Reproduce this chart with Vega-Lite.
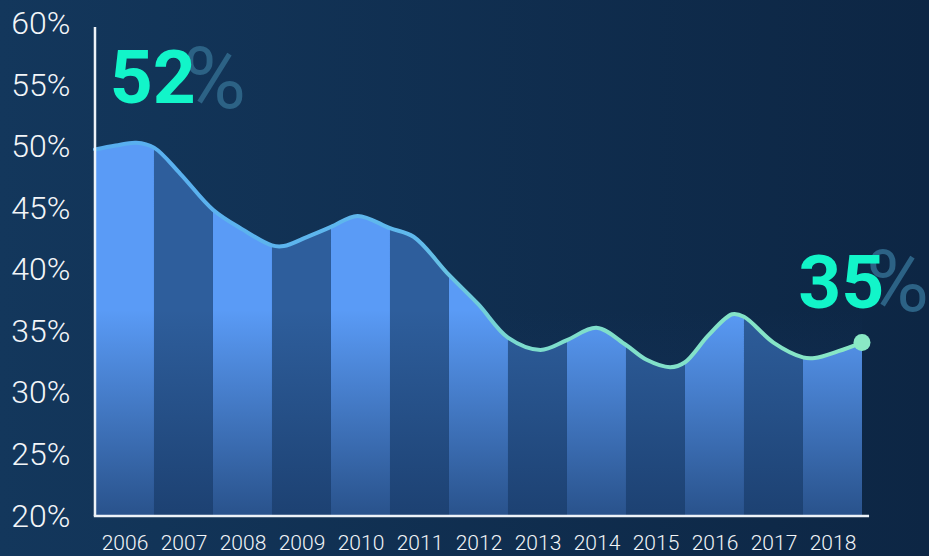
{
  "$schema": "https://vega.github.io/schema/vega-lite/v6.json",
  "width": 929,
  "height": 556,
  "autosize": {"type": "none"},
  "padding": 0,
  "background": "#10304f",
  "view": {"stroke": null, "fill": {"gradient": "linear", "x1": 0, "y1": 0, "x2": 1, "y2": 0, "stops": [{"offset": 0, "color": "#13375c"}, {"offset": 1, "color": "#0d2644"}]}},
  "datasets": {
    "curve": [
      {"u": 0, "v": 49.8, "b": [0]},
      {"u": 0.35, "v": 50.12, "b": [0]},
      {"u": 0.7, "v": 50.35, "b": [0]},
      {"u": 1, "v": 49.95, "b": [0, 1]},
      {"u": 1.45, "v": 47.8, "b": [1]},
      {"u": 2, "v": 44.9, "b": [1, 2]},
      {"u": 2.5, "v": 43.3, "b": [2]},
      {"u": 3, "v": 42.0, "b": [2, 3]},
      {"u": 3.2, "v": 41.95, "b": [3]},
      {"u": 3.6, "v": 42.7, "b": [3]},
      {"u": 4, "v": 43.5, "b": [3, 4]},
      {"u": 4.45, "v": 44.4, "b": [4]},
      {"u": 5, "v": 43.4, "b": [4, 5]},
      {"u": 5.4, "v": 42.7, "b": [5]},
      {"u": 6, "v": 39.6, "b": [5, 6]},
      {"u": 6.5, "v": 37.2, "b": [6]},
      {"u": 7, "v": 34.5, "b": [6, 7]},
      {"u": 7.55, "v": 33.5, "b": [7]},
      {"u": 8, "v": 34.3, "b": [7, 8]},
      {"u": 8.5, "v": 35.3, "b": [8]},
      {"u": 9, "v": 33.9, "b": [8, 9]},
      {"u": 9.35, "v": 32.7, "b": [9]},
      {"u": 9.75, "v": 32.1, "b": [9]},
      {"u": 10, "v": 32.5, "b": [9, 10]},
      {"u": 10.4, "v": 34.7, "b": [10]},
      {"u": 10.8, "v": 36.4, "b": [10]},
      {"u": 11, "v": 36.2, "b": [10, 11]},
      {"u": 11.5, "v": 34.1, "b": [11]},
      {"u": 12, "v": 32.9, "b": [11, 12]},
      {"u": 12.2, "v": 32.85, "b": [12]},
      {"u": 12.6, "v": 33.4, "b": [12]},
      {"u": 13, "v": 34.1, "b": [12]}
    ]
  },
  "layer": [
    {
      "data": {"name": "curve"},
      "transform": [{"flatten": ["b"]}, {"filter": "datum.b % 2 == 0"}],
      "mark": {"type": "area", "interpolate": "catmull-rom", "color": "#5a9bf6"},
      "encoding": {
        "x": {"field": "u", "type": "quantitative", "scale": {"domain": [-1.61, 14.136], "nice": false, "zero": false},
          "axis": {"orient": "bottom", "offset": -40, "values": [0.5, 1.5, 2.5, 3.5, 4.5, 5.5, 6.5, 7.5, 8.5, 9.5, 10.5, 11.5, 12.5], "labelExpr": "'' + (2006 + floor(datum.value))", "domain": false, "ticks": false, "grid": false, "title": null, "labelFont": "Roboto", "labelFontWeight": 300, "labelFontSize": 21, "labelColor": "#f2f5f8", "labelPadding": 16, "labelFlush": false, "labelOverlap": false}},
        "y": {"field": "v", "type": "quantitative", "scale": {"domain": [16.748, 61.951], "nice": false, "zero": false},
          "axis": {"orient": "left", "offset": -95, "values": [20, 25, 30, 35, 40, 45, 50, 55, 60], "labelExpr": "datum.value + '%'", "domain": false, "ticks": false, "grid": false, "title": null, "labelFont": "Roboto", "labelFontWeight": 300, "labelFontSize": 32, "labelColor": "#f2f5f8", "labelPadding": 25, "labelFlush": false, "labelOverlap": false, "labelBaseline": "middle"}},
        "y2": {"datum": 20},
        "detail": {"field": "b", "type": "nominal"}
      }
    },
    {
      "data": {"name": "curve"},
      "transform": [{"flatten": ["b"]}, {"filter": "datum.b % 2 == 1"}],
      "mark": {"type": "area", "interpolate": "catmull-rom", "color": "#2e5e9c"},
      "encoding": {
        "x": {"field": "u", "type": "quantitative", "scale": {"domain": [-1.61, 14.136], "nice": false, "zero": false}},
        "y": {"field": "v", "type": "quantitative", "scale": {"domain": [16.748, 61.951], "nice": false, "zero": false}},
        "y2": {"datum": 20},
        "detail": {"field": "b", "type": "nominal"}
      }
    },
    {
      "data": {"values": [{}]},
      "mark": {"type": "rect", "fill": {"gradient": "linear", "x1": 0, "y1": 0, "x2": 0, "y2": 1, "stops": [{"offset": 0, "color": "rgba(22,54,98,0)"}, {"offset": 1, "color": "rgba(22,54,98,0.72)"}]}},
      "encoding": {
        "x": {"datum": 0, "type": "quantitative", "scale": {"domain": [-1.61, 14.136], "nice": false, "zero": false}},
        "x2": {"datum": 13},
        "y": {"datum": 36.75, "type": "quantitative", "scale": {"domain": [16.748, 61.951], "nice": false, "zero": false}},
        "y2": {"datum": 20}
      }
    },
    {
      "data": {"name": "curve"},
      "mark": {"type": "line", "interpolate": "catmull-rom", "strokeWidth": 4, "strokeCap": "round",
        "stroke": {"gradient": "linear", "x1": 0, "y1": 0, "x2": 1, "y2": 0, "stops": [{"offset": 0, "color": "#58aef0"}, {"offset": 0.42, "color": "#60b9ec"}, {"offset": 0.56, "color": "#7ddccc"}, {"offset": 1, "color": "#88e7c5"}]}},
      "encoding": {
        "x": {"field": "u", "type": "quantitative", "scale": {"domain": [-1.61, 14.136], "nice": false, "zero": false}},
        "y": {"field": "v", "type": "quantitative", "scale": {"domain": [16.748, 61.951], "nice": false, "zero": false}}
      }
    },
    {
      "data": {"name": "curve"},
      "transform": [{"filter": "datum.u == 13"}],
      "mark": {"type": "point", "filled": true, "size": 290, "color": "#8ae9c5", "opacity": 1},
      "encoding": {
        "x": {"field": "u", "type": "quantitative", "scale": {"domain": [-1.61, 14.136], "nice": false, "zero": false}},
        "y": {"field": "v", "type": "quantitative", "scale": {"domain": [16.748, 61.951], "nice": false, "zero": false}}
      }
    },
    {
      "data": {"values": [{}]},
      "mark": {"type": "rule", "color": "#eef3f8", "strokeWidth": 2.5},
      "encoding": {
        "x": {"datum": 0, "type": "quantitative", "scale": {"domain": [-1.61, 14.136], "nice": false, "zero": false}},
        "y": {"datum": 20, "type": "quantitative", "scale": {"domain": [16.748, 61.951], "nice": false, "zero": false}},
        "y2": {"datum": 59.76}
      }
    },
    {
      "data": {"values": [{}]},
      "mark": {"type": "rule", "color": "#eef3f8", "strokeWidth": 2.5},
      "encoding": {
        "x": {"datum": -0.02, "type": "quantitative", "scale": {"domain": [-1.61, 14.136], "nice": false, "zero": false}},
        "x2": {"datum": 13.12},
        "y": {"datum": 20, "type": "quantitative", "scale": {"domain": [16.748, 61.951], "nice": false, "zero": false}}
      }
    },
    {
      "data": {"values": [{}]},
      "mark": {"type": "text", "align": "left", "baseline": "alphabetic", "font": "Roboto", "fontSize": 86, "fontWeight": "normal", "color": "#2c6285"},
      "encoding": {
        "x": {"datum": 1.49, "type": "quantitative", "scale": {"domain": [-1.61, 14.136], "nice": false, "zero": false}},
        "y": {"datum": 53.17, "type": "quantitative", "scale": {"domain": [16.748, 61.951], "nice": false, "zero": false}},
        "text": {"value": "%"}
      }
    },
    {
      "data": {"values": [{}]},
      "mark": {"type": "text", "align": "left", "baseline": "alphabetic", "font": "Roboto", "fontSize": 75, "fontWeight": "bold", "color": "#12f5c9"},
      "encoding": {
        "x": {"datum": 0.25, "type": "quantitative", "scale": {"domain": [-1.61, 14.136], "nice": false, "zero": false}},
        "y": {"datum": 53.58, "type": "quantitative", "scale": {"domain": [16.748, 61.951], "nice": false, "zero": false}},
        "text": {"value": "52"}
      }
    },
    {
      "data": {"values": [{}]},
      "mark": {"type": "text", "align": "left", "baseline": "alphabetic", "font": "Roboto", "fontSize": 86, "fontWeight": "normal", "color": "#2c6285"},
      "encoding": {
        "x": {"datum": 13.07, "type": "quantitative", "scale": {"domain": [-1.61, 14.136], "nice": false, "zero": false}},
        "y": {"datum": 36.67, "type": "quantitative", "scale": {"domain": [16.748, 61.951], "nice": false, "zero": false}},
        "text": {"value": "%"}
      }
    },
    {
      "data": {"values": [{}]},
      "mark": {"type": "text", "align": "left", "baseline": "alphabetic", "font": "Roboto", "fontSize": 75, "fontWeight": "bold", "color": "#12f5c9"},
      "encoding": {
        "x": {"datum": 11.92, "type": "quantitative", "scale": {"domain": [-1.61, 14.136], "nice": false, "zero": false}},
        "y": {"datum": 36.91, "type": "quantitative", "scale": {"domain": [16.748, 61.951], "nice": false, "zero": false}},
        "text": {"value": "35"}
      }
    }
  ]
}
